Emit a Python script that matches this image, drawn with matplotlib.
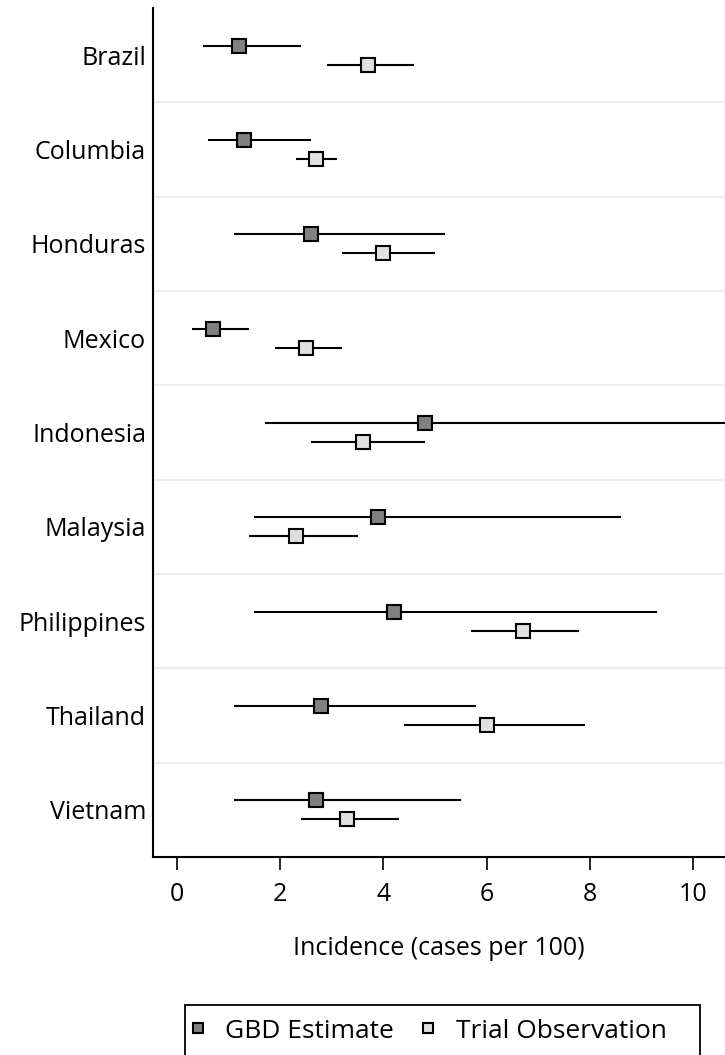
import matplotlib.pyplot as plt
from matplotlib.patches import Rectangle
import numpy as np

countries = ['Brazil', 'Columbia', 'Honduras', 'Mexico', 'Indonesia',
             'Malaysia', 'Philippines', 'Thailand', 'Vietnam']

gbd_est = [1.2, 1.3, 2.6, 0.7, 4.8, 3.9, 4.2, 2.8, 2.7]
gbd_lo = [0.5, 0.6, 1.1, 0.3, 1.7, 1.5, 1.5, 1.1, 1.1]
gbd_hi = [2.4, 2.6, 5.2, 1.4, 11.5, 8.6, 9.3, 5.8, 5.5]

trial_est = [3.7, 2.7, 4.0, 2.5, 3.6, 2.3, 6.7, 6.0, 3.3]
trial_lo = [2.9, 2.3, 3.2, 1.9, 2.6, 1.4, 5.7, 4.4, 2.4]
trial_hi = [4.6, 3.1, 5.0, 3.2, 4.8, 3.5, 7.8, 7.9, 4.3]

plt.rcParams['font.family'] = ['Open Sans', 'DejaVu Sans']
FS = 18

fig = plt.figure(figsize=(7.25, 10.55), dpi=100)
ax = fig.add_axes([0.211, 0.1877, 0.789, 0.8047])

pos = np.arange(len(countries))

def draw(est, lo, hi, off, color, label):
    y = pos + off
    ax.hlines(y, lo, hi, color='black', lw=1.5, zorder=2)
    ax.plot(est, y, 's', ms=9.5, mfc=color, mec='black', mew=1.5,
            ls='none', label=label, zorder=3)

draw(gbd_est, gbd_lo, gbd_hi, -0.1, '#808080', 'GBD Estimate')
draw(trial_est, trial_lo, trial_hi, 0.1, '#e0e0e0', 'Trial Observation')

for b in pos[:-1] + 0.5:
    ax.axhline(b, color='#eeeeee', lw=1.5, zorder=1)

ax.set_ylim(8.5, -0.5)
ax.set_xlim(-0.465, 10.62)
ax.set_yticks(pos)
ax.set_yticklabels(countries)
ax.set_xticks([0, 2, 4, 6, 8, 10])
ax.tick_params(axis='y', length=0, pad=5, labelsize=FS)
ax.tick_params(axis='x', length=9, width=1.2, pad=9, labelsize=FS)
ax.set_xlabel('Incidence (cases per 100)', fontsize=FS, labelpad=21)

for s in ['top', 'right']:
    ax.spines[s].set_visible(False)
for s in ['left', 'bottom']:
    ax.spines[s].set_linewidth(1.5)

# legend entries without frame, box drawn separately (cut off at bottom as in source)
leg = fig.legend(loc='upper left', bbox_to_anchor=(187 / 725, 1 - 1016 / 1055),
                 borderaxespad=0, ncol=2, fontsize=19, frameon=False,
                 markerscale=0.7, handletextpad=0.75, borderpad=0.1,
                 handlelength=0.6, columnspacing=1.0)
fig.patches.append(Rectangle((185 / 725, -0.02), 515 / 725, 50 / 1055 + 0.02,
                             transform=fig.transFigure, fill=False,
                             ec='black', lw=1.3))

fig.savefig('out.png', dpi=100)
